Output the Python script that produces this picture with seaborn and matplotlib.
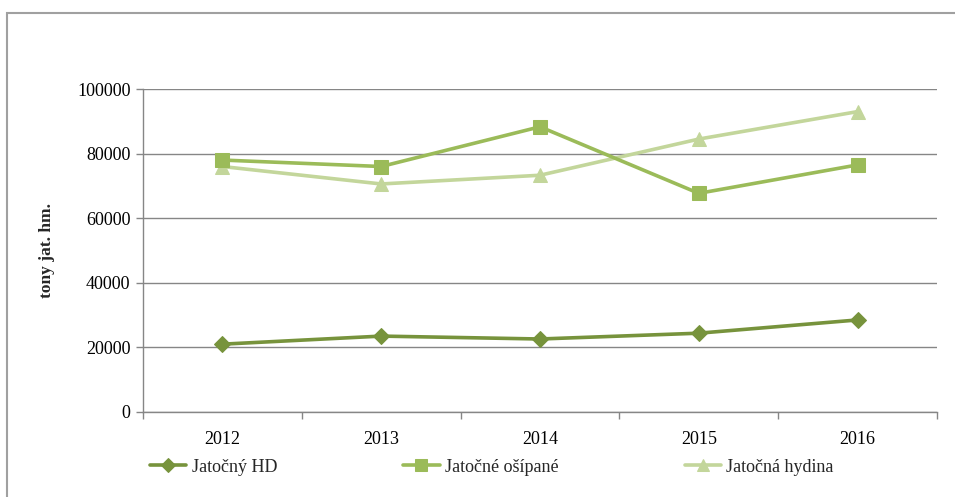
import matplotlib
matplotlib.use("Agg")
import matplotlib.pyplot as plt
import seaborn as sns
import pandas as pd
import numpy as np
from matplotlib.patches import Rectangle
from matplotlib.ticker import FixedLocator

years = ["2012", "2013", "2014", "2015", "2016"]
series_names = ["Jatočný HD", "Jatočné ošípané", "Jatočná hydina"]
hd = [21000, 23500, 22600, 24400, 28500]
osipane = [78000, 76000, 88300, 67700, 76500]
hydina = [76000, 70600, 73300, 84500, 93000]
y_ticks = [0, 20000, 40000, 60000, 80000, 100000]
y_label = "tony jat. hm."

sns.set_theme(style="white")
plt.rcParams["font.family"] = ["Liberation Serif", "DejaVu Serif"]

W, H = 955, 497
fig = plt.figure(figsize=(W / 100, H / 100), dpi=100)
ax = fig.add_axes([143 / W, (H - 412) / H, (937 - 143) / W, (412 - 89) / H])

df = pd.DataFrame({
    "pos": list(range(len(years))) * 3,
    "value": hd + osipane + hydina,
    "series": [series_names[0]] * 5 + [series_names[1]] * 5 + [series_names[2]] * 5,
})
colors = ["#77933C", "#9BBB59", "#C3D69B"]
markers = ["D", "s", "^"]
msizes = [8, 10, 10]
zorders = [3, 4, 3]
for name, c, m, ms, z in zip(series_names, colors, markers, msizes, zorders):
    sub = df[df["series"] == name]
    sns.lineplot(data=sub, x="pos", y="value", ax=ax, color=c, marker=m,
                 markersize=ms, markeredgecolor=c, linewidth=2.6, label=name,
                 zorder=z)

ax.set_xlim(-0.5, len(years) - 0.5)
ax.set_ylim(0, 100000)
ax.set_yticks(y_ticks)
ax.set_yticklabels([str(v) for v in y_ticks])
ax.set_xticks(range(len(years)))
ax.set_xticklabels(years)
ax.xaxis.set_minor_locator(FixedLocator(np.arange(-0.5, len(years), 1.0)))
ax.tick_params(axis="x", which="major", length=0, pad=14, labelsize=13, colors="black")
ax.tick_params(axis="x", which="minor", length=5, width=1, color="#868686", direction="out", bottom=True)
ax.tick_params(axis="y", length=5, width=1, color="#868686", direction="out", left=True,
               pad=4, labelsize=13, labelcolor="black")
ax.grid(axis="y", color="#868686", linewidth=1)
ax.set_axisbelow(True)
for s in ["top", "right"]:
    ax.spines[s].set_visible(False)
for s in ["left", "bottom"]:
    ax.spines[s].set_color("#868686")
    ax.spines[s].set_linewidth(1)
ax.set_xlabel("")
ax.set_ylabel(y_label, fontsize=12.5, fontweight="bold")
ax.yaxis.set_label_coords(-(143 - 55) / (937 - 143), 0.5)

ax.legend_.remove()
handles, labels = ax.get_legend_handles_labels()
fig.legend(handles, labels, loc="center left", bbox_to_anchor=(150 / W, (H - 467) / H),
           ncol=3, frameon=False, fontsize=13, borderpad=0, borderaxespad=0,
           handlelength=2.0, handletextpad=0.3, columnspacing=7.0,
           markerscale=0.85)

fig.patches.append(Rectangle((7 / W, -0.05), 1.1, (H - 13) / H + 0.05,
                             transform=fig.transFigure, fill=False,
                             edgecolor="#A0A0A0", linewidth=1.5))

fig.savefig("out.png", dpi=100)
